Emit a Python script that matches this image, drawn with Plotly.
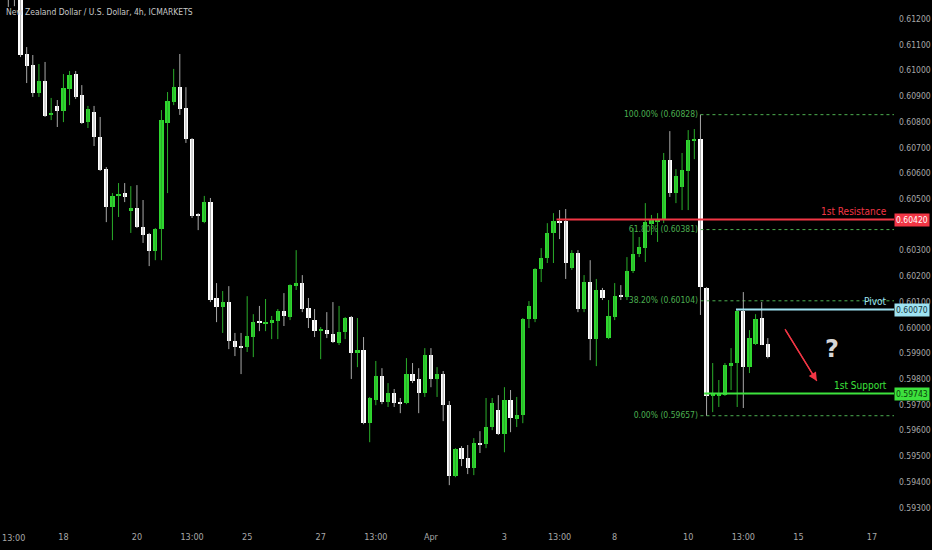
import plotly.graph_objects as go

# ---------------- data (NZDUSD 4h, ICMARKETS) ----------------
opens = [0.61360, 0.61340, 0.61300, 0.61064, 0.61021, 0.60912, 0.60959, 0.60827, 0.60862, 0.60842,
         0.60928, 0.60986, 0.60904, 0.60799, 0.60838, 0.60741, 0.60617, 0.60469, 0.60512, 0.60523,
         0.60453, 0.60465, 0.60391, 0.60364, 0.60298, 0.60383, 0.60795, 0.60877, 0.60935, 0.60854,
         0.60733, 0.60438, 0.60410, 0.60488, 0.60115, 0.60080, 0.60099, 0.59947, 0.59928, 0.59924,
         0.59963, 0.60025, 0.60017, 0.60017, 0.60025, 0.60064, 0.60041, 0.60161, 0.60173, 0.60076,
         0.60029, 0.59986, 0.59990, 0.59975, 0.59940, 0.59982, 0.60041, 0.59901, 0.59912, 0.59628,
         0.59718, 0.59811, 0.59710, 0.59745, 0.59710, 0.59706, 0.59819, 0.59800, 0.59745, 0.59893,
         0.59800, 0.59819, 0.59698, 0.59422, 0.59531, 0.59492, 0.59453, 0.59550, 0.59547, 0.59613,
         0.59679, 0.59586, 0.59718, 0.59644, 0.59660, 0.60033, 0.60033, 0.60228, 0.60270, 0.60368,
         0.60414, 0.60414, 0.60231, 0.60290, 0.60072, 0.60177, 0.59955, 0.60146, 0.59959, 0.60041,
         0.60126, 0.60118, 0.60220, 0.60286, 0.60309, 0.60403, 0.60410, 0.60418, 0.60651, 0.60523,
         0.60547, 0.60609, 0.60725, 0.60733, 0.60154, 0.59734, 0.59734, 0.59738, 0.59850, 0.59862,
         0.60064, 0.59846, 0.59936, 0.60037, 0.59936]
highs = [0.61390, 0.61370, 0.61330, 0.61091, 0.61060, 0.61025, 0.61033, 0.60893, 0.60885, 0.60986,
         0.60998, 0.60998, 0.60943, 0.60862, 0.60862, 0.60819, 0.60624, 0.60523, 0.60562, 0.60562,
         0.60550, 0.60554, 0.60496, 0.60368, 0.60387, 0.60846, 0.60916, 0.61006, 0.61064, 0.60935,
         0.60737, 0.60445, 0.60512, 0.60504, 0.60173, 0.60142, 0.60161, 0.59979, 0.59979, 0.60122,
         0.60052, 0.60084, 0.60111, 0.60045, 0.60072, 0.60134, 0.60168, 0.60301, 0.60204, 0.60115,
         0.60072, 0.60002, 0.60060, 0.60099, 0.60084, 0.60041, 0.60045, 0.60037, 0.59963, 0.59730,
         0.59870, 0.59842, 0.59784, 0.59761, 0.59726, 0.59881, 0.59862, 0.59842, 0.59920, 0.59920,
         0.59846, 0.59831, 0.59714, 0.59531, 0.59539, 0.59543, 0.59570, 0.59597, 0.59726, 0.59726,
         0.59737, 0.59768, 0.59757, 0.59730, 0.60037, 0.60103, 0.60231, 0.60309, 0.60406, 0.60445,
         0.60457, 0.60461, 0.60301, 0.60301, 0.60204, 0.60262, 0.60189, 0.60154, 0.60107, 0.60173,
         0.60165, 0.60274, 0.60387, 0.60352, 0.60484, 0.60438, 0.60445, 0.60679, 0.60764, 0.60616,
         0.60679, 0.60768, 0.60772, 0.60828, 0.60157, 0.59862, 0.59796, 0.59862, 0.59920, 0.60068,
         0.60138, 0.59990, 0.60052, 0.60099, 0.59959]
lows = [0.61247, 0.61250, 0.61052, 0.60951, 0.60897, 0.60897, 0.60819, 0.60807, 0.60780, 0.60799,
        0.60865, 0.60889, 0.60792, 0.60776, 0.60706, 0.60609, 0.60410, 0.60340, 0.60430, 0.60488,
        0.60368, 0.60387, 0.60329, 0.60239, 0.60262, 0.60262, 0.60523, 0.60865, 0.60827, 0.60718,
        0.60426, 0.60379, 0.60406, 0.60099, 0.60021, 0.59979, 0.59916, 0.59889, 0.59819, 0.59905,
        0.59885, 0.59986, 0.59986, 0.59955, 0.59955, 0.60006, 0.60029, 0.60146, 0.60060, 0.59998,
        0.59963, 0.59877, 0.59959, 0.59940, 0.59932, 0.59955, 0.59800, 0.59846, 0.59624, 0.59554,
        0.59698, 0.59702, 0.59691, 0.59691, 0.59667, 0.59702, 0.59784, 0.59667, 0.59730, 0.59768,
        0.59730, 0.59636, 0.59387, 0.59418, 0.59461, 0.59430, 0.59426, 0.59512, 0.59531, 0.59601,
        0.59582, 0.59515, 0.59593, 0.59613, 0.59628, 0.59998, 0.60021, 0.60177, 0.60251, 0.60251,
        0.60344, 0.60189, 0.60224, 0.60060, 0.60060, 0.59873, 0.59850, 0.60107, 0.59955, 0.60029,
        0.60107, 0.60107, 0.60212, 0.60274, 0.60255, 0.60360, 0.60333, 0.60406, 0.60508, 0.60484,
        0.60457, 0.60457, 0.60655, 0.60049, 0.59657, 0.59671, 0.59691, 0.59734, 0.59757, 0.59691,
        0.59687, 0.59823, 0.59932, 0.59932, 0.59880]
closes = [0.61310, 0.61300, 0.61060, 0.61017, 0.60912, 0.60959, 0.60823, 0.60834, 0.60842, 0.60932,
          0.60982, 0.60897, 0.60795, 0.60850, 0.60741, 0.60613, 0.60469, 0.60512, 0.60520, 0.60508,
          0.60465, 0.60391, 0.60360, 0.60298, 0.60383, 0.60807, 0.60881, 0.60935, 0.60850, 0.60733,
          0.60434, 0.60434, 0.60488, 0.60107, 0.60080, 0.60099, 0.59947, 0.59924, 0.59924, 0.59967,
          0.60021, 0.60017, 0.60021, 0.60029, 0.60064, 0.60045, 0.60165, 0.60173, 0.60072, 0.60037,
          0.59986, 0.59994, 0.59975, 0.59944, 0.59982, 0.60037, 0.59901, 0.59912, 0.59628, 0.59726,
          0.59811, 0.59710, 0.59745, 0.59706, 0.59706, 0.59819, 0.59792, 0.59745, 0.59893, 0.59800,
          0.59819, 0.59698, 0.59422, 0.59527, 0.59488, 0.59453, 0.59550, 0.59547, 0.59613, 0.59706,
          0.59586, 0.59718, 0.59648, 0.59660, 0.60033, 0.60084, 0.60228, 0.60270, 0.60368, 0.60414,
          0.60410, 0.60251, 0.60290, 0.60072, 0.60177, 0.59955, 0.60146, 0.60115, 0.60045, 0.60122,
          0.60118, 0.60220, 0.60286, 0.60313, 0.60410, 0.60418, 0.60422, 0.60651, 0.60523, 0.60590,
          0.60613, 0.60729, 0.60733, 0.60157, 0.59734, 0.59738, 0.59745, 0.59854, 0.59862, 0.60064,
          0.59846, 0.59959, 0.60033, 0.59934, 0.59885]

time_tick_bars = [0, 9, 21, 30, 39, 51, 60, 69, 81, 90, 99, 111, 120, 129, 141]
time_tick_text = ["13:00", "18", "20", "13:00", "25", "27", "13:00", "Apr", "3", "13:00",
                  "8", "10", "13:00", "15", "17"]
# 0.60400 sits under the 0.60420 resistance tag, so it is not listed
price_ticks = [0.593, 0.594, 0.595, 0.596, 0.597, 0.598, 0.599, 0.600, 0.601, 0.602,
               0.603, 0.605, 0.606, 0.607, 0.608, 0.609, 0.610, 0.611, 0.612]

# horizontal levels drawn on chart
level_names = ["1st Resistance", "Pivot", "1st Support"]
level_values = [0.60420, 0.60070, 0.59743]
level_start_bar = [89.5, 118.8, 113.6]
level_colors = ["#F23645", "#9EE3F2", "#3DE23D"]
level_box_text = ["#FFFFFF", "#17343a", "#0b3d0b"]

# fibonacci retracement
fib_values = [0.60828, 0.60381, 0.60104, 0.59657]
fib_labels = ["100.00% (0.60828)", "61.80% (0.60381)", "38.20% (0.60104)", "0.00% (0.59657)"]
fib_start_bar = 113.0

# projection arrow (bar, price)
arrow_from = (126.8, 0.59994)
arrow_to = (132.0, 0.59792)
question_at = (134.5, 0.59916)

X_RANGE = [-1.355, 144.6]
Y_RANGE = [0.59232, 0.61274]

GREEN = "#2FD82F"
WHITE = "#FFFFFF"
FONT = "DejaVu Sans Condensed, Liberation Sans, sans-serif"
AXIS_GREY = "#A8A8A8"

fig = go.Figure()

bars = list(range(len(opens)))

# fib labels (drawn first so candles sit on top)
fig.add_trace(go.Scatter(
    x=[fib_start_bar - 0.4] * len(fib_values), y=fib_values, mode="text",
    text=fib_labels, textposition="middle left",
    textfont=dict(family=FONT, size=8.5, color="#4CAF50"), hoverinfo="skip", showlegend=False))

# fib dotted lines
for v in fib_values:
    fig.add_trace(go.Scatter(x=[fib_start_bar, X_RANGE[1]], y=[v, v], mode="lines",
                             line=dict(color="#4CAF50", width=1, dash="dot"),
                             hoverinfo="skip", showlegend=False))

# wicks
for up, col in ((False, "#A8A8A8"), (True, "#2AAE2A")):
    wx, wy = [], []
    for i in bars:
        if (closes[i] >= opens[i]) == up:
            wx += [i, i, None]
            wy += [lows[i], highs[i], None]
    fig.add_trace(go.Scatter(x=wx, y=wy, mode="lines", line=dict(color=col, width=1),
                             hoverinfo="skip", showlegend=False))

# bodies
min_body = 0.000028
for up, col in ((False, WHITE), (True, GREEN)):
    bx, bbase, bh = [], [], []
    for i in bars:
        if (closes[i] >= opens[i]) == up:
            bx.append(i)
            bbase.append(min(opens[i], closes[i]))
            bh.append(max(abs(closes[i] - opens[i]), min_body))
    fig.add_trace(go.Bar(x=bx, y=bh, base=bbase, width=0.7, marker=dict(color=col, line=dict(width=0)),
                         hoverinfo="skip", showlegend=False))

# level lines
for name, v, s, c in zip(level_names, level_values, level_start_bar, level_colors):
    fig.add_trace(go.Scatter(x=[s, X_RANGE[1]], y=[v, v], mode="lines",
                             line=dict(color=c, width=2), hoverinfo="skip", showlegend=False))

# arrow
fig.add_trace(go.Scatter(x=[arrow_from[0], arrow_to[0]], y=[arrow_from[1], arrow_to[1]],
                         mode="lines", line=dict(color="#F23645", width=1.3),
                         hoverinfo="skip", showlegend=False))
fig.add_annotation(x=arrow_to[0], y=arrow_to[1], ax=arrow_from[0], ay=arrow_from[1],
                   xref="x", yref="y", axref="x", ayref="y", text="", showarrow=True,
                   arrowhead=2, arrowsize=1.3, arrowwidth=1.3, arrowcolor="#F23645")

annotations = []
# level text labels & axis boxes
for name, v, c, tc in zip(level_names, level_values, level_colors, level_box_text):
    annotations.append(dict(x=143.8, y=v, xref="x", yref="y", text=name, showarrow=False,
                            xanchor="right", yanchor="bottom", yshift=1,
                            font=dict(family=FONT, size=10, color=c)))
    annotations.append(dict(x=1, y=v, xref="paper", yref="y", text=f"{v:.5f}", showarrow=False,
                            xanchor="left", yanchor="middle", xshift=0, bgcolor=c, borderpad=1,
                            font=dict(family=FONT, size=8.5, color=tc)))
# first time label sits on the left edge: anchor it left so it stays inside the page
annotations.append(dict(x=0, y=0, xref="paper", yref="paper", xanchor="left", yanchor="top",
                        yshift=-6, showarrow=False, text=time_tick_text[0],
                        font=dict(family=FONT, size=9, color=AXIS_GREY)))
# question mark
annotations.append(dict(x=question_at[0], y=question_at[1], xref="x", yref="y", text="<b>?</b>",
                        showarrow=False, font=dict(family="DejaVu Sans", size=24, color="#D6D6D6")))
# title
annotations.append(dict(x=0, y=1, xref="paper", yref="paper", xanchor="left", yanchor="top",
                        xshift=4, yshift=-5, showarrow=False,
                        text="New Zealand Dollar / U.S. Dollar, 4h, ICMARKETS",
                        font=dict(family=FONT, size=8.5, color="#C8C8C8")))
for a in annotations:
    fig.add_annotation(**a)

fig.update_layout(
    width=932, height=550,
    margin=dict(l=0, r=38, t=0, b=25, pad=0, autoexpand=False),
    paper_bgcolor="#000000", plot_bgcolor="#000000",
    barmode="overlay", bargap=0, showlegend=False, hovermode=False,
    xaxis=dict(range=X_RANGE, tickvals=time_tick_bars[1:], ticktext=time_tick_text[1:],
               showgrid=False, zeroline=False, showline=False, ticks="", automargin=False,
               ticklabeloverflow="allow", ticklabelstandoff=5,
               tickfont=dict(family=FONT, size=9, color=AXIS_GREY)),
    yaxis=dict(range=Y_RANGE, side="right", tickvals=price_ticks, tickformat=".5f",
               showgrid=False, zeroline=False, showline=False, ticks="", automargin=False,
               ticklabelstandoff=4,
               tickfont=dict(family=FONT, size=8.5, color=AXIS_GREY)),
)

fig.write_html("out.html", config={"displayModeBar": False},
               post_script="document.body.style.margin='0';")
